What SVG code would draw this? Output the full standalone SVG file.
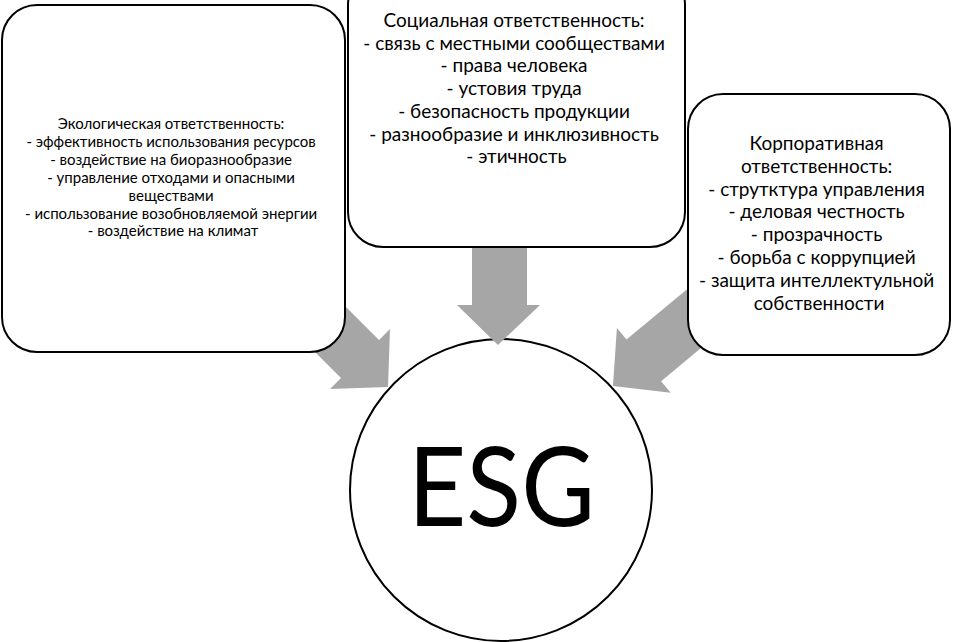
<svg xmlns="http://www.w3.org/2000/svg" width="953" height="642" viewBox="0 0 953 642">
<style>
.box{fill:#fff;stroke:#000;stroke-width:2}
.arr{fill:#a6a6a6;stroke:none}
.t{font-family:Lato,"Noto Sans",sans-serif;fill:#000;text-anchor:middle}
.s{font-size:15px}
.m{font-size:19px}
</style>
<rect width="953" height="642" fill="#fff"/>
<g id="esg">
<circle cx="501" cy="490" r="151" class="box"/>
<text class="t" x="501.5" y="526" font-size="111" textLength="187" lengthAdjust="spacingAndGlyphs">ESG</text>
</g>
<g id="connectors">
<polygon class="arr" points="472,230 527,230 527,305 540,305 498,345 457,305 472,305"/>
<polygon class="arr" points="301,262 379,340 390,329 388,387 330,389 341,378 263,300"/>
<polygon class="arr" points="745.8,310.8 661.1,381.2 670.7,392.7 613,386 616.9,328.1 626.5,339.6 711.2,269.2"/>
</g>
<g id="env">
<rect x="2" y="5" width="343" height="347" rx="35" class="box"/>
<text class="t s">
<tspan x="173" y="129">Экологическая ответственность:</tspan>
<tspan x="173" y="147">- эффективность использования ресурсов</tspan>
<tspan x="173" y="165">- воздействие на биоразнообразие</tspan>
<tspan x="173" y="183">- управление отходами и опасными</tspan>
<tspan x="173" y="200.6">веществами</tspan>
<tspan x="173" y="218.5">- использование возобновляемой энергии</tspan>
<tspan x="173" y="236.4">- воздействие на климат</tspan>
</text>
</g>
<g id="social">
<rect x="348" y="-30" width="337" height="277" rx="35" class="box"/>
<text class="t m">
<tspan x="516.5" y="27">Социальная ответственность:</tspan>
<tspan x="516.5" y="49.7">- связь с местными сообществами</tspan>
<tspan x="516.5" y="72.4">- права человека</tspan>
<tspan x="516.5" y="95.1">- устовия труда</tspan>
<tspan x="516.5" y="117.8">- безопасность продукции</tspan>
<tspan x="516.5" y="140.5">- разнообразие и инклюзивность</tspan>
<tspan x="516.5" y="163.2">- этичность</tspan>
</text>
</g>
<g id="gov">
<rect x="688" y="94" width="262" height="261" rx="35" class="box"/>
<text class="t m">
<tspan x="819" y="150">Корпоративная</tspan>
<tspan x="819" y="172.8">ответственность:</tspan>
<tspan x="819" y="195.6">- струтктура управления</tspan>
<tspan x="819" y="218.4">- деловая честность</tspan>
<tspan x="819" y="241.2">- прозрачность</tspan>
<tspan x="819" y="264">- борьба с коррупцией</tspan>
<tspan x="819" y="286.8">- защита интеллектульной</tspan>
<tspan x="819" y="309.6">собственности</tspan>
</text>
</g>
</svg>
